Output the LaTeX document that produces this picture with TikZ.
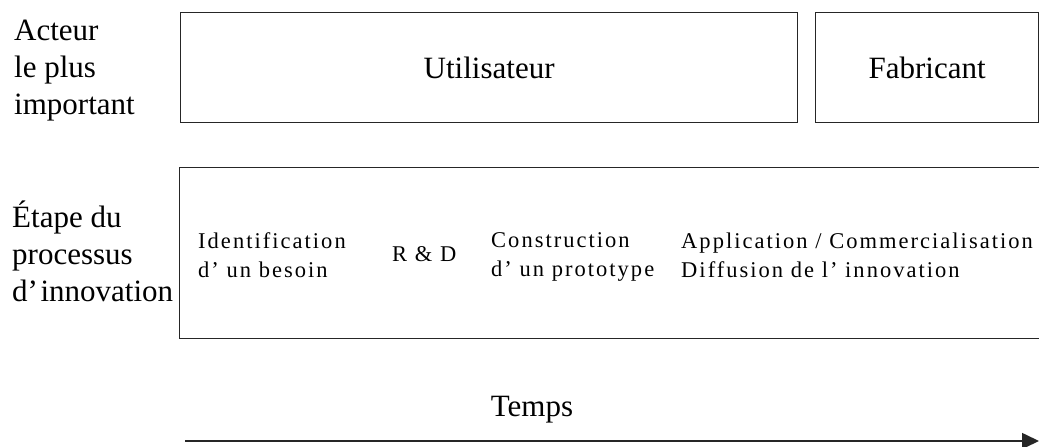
\documentclass[tikz,border=0pt]{standalone}
\usepackage{fontspec}
\setmainfont{Liberation Serif}
\newfontfamily\spacedfont[LetterSpace=9]{Liberation Serif}
\usetikzlibrary{arrows.meta}
\tikzset{
  frame/.style={draw=black!85, line width=1.3bp, inner sep=0pt, anchor=north west},
  biglabel/.style={font=\fontsize{31bp}{37bp}\selectfont, inner sep=0pt, align=left, anchor=base west},
  boxlabel/.style={font=\fontsize{31bp}{37bp}\selectfont, inner sep=0pt},
  steplabel/.style={font=\spacedfont\fontsize{22.5bp}{29.5bp}\selectfont, inner sep=0pt, align=left, anchor=base west},
  timearrow/.style={draw=black!85, line width=1.6bp, -{Triangle[length=17bp,width=16bp]}}
}
\begin{document}
\begin{tikzpicture}[x=1bp,y=-1bp]
\useasboundingbox (0,0) rectangle (1039,447);
\clip (0,0) rectangle (1039,447);
% top row
\node[biglabel] (acteur) at (14,115) {Acteur\\le plus\\important};
\node[frame, minimum width=617bp, minimum height=110bp] (util) at (180,12) {};
\node[boxlabel] (utiltxt) at (util.center) {Utilisateur};
\node[frame, minimum width=223bp, minimum height=110bp] (fab) at (815,12) {};
\node[boxlabel] (fabtxt) at (fab.center) {Fabricant};
% middle row
\node[biglabel] (etape) at (12,302) {Étape du\\processus\\d’\hspace{0.08em}innovation};
\node[frame, minimum width=900bp, minimum height=171bp] (proc) at (179,167) {};
\node[steplabel] (s1) at (198,278) {Identification\\d’ un besoin};
\node[steplabel] (s2) at (392,262) {R \& D};
\node[steplabel] (s3) at (491,277) {Construction\\d’ un prototype};
\node[steplabel] (s4) at (681,278) {Application / Commercialisation\\Diffusion de l’ innovation};
% time axis
\node[boxlabel] (temps) at (532,410) {Temps};
\coordinate (t0) at (185,441);
\coordinate (t1) at (1039,441);
\draw[timearrow] (t0) -- (t1);
\end{tikzpicture}
\end{document}
